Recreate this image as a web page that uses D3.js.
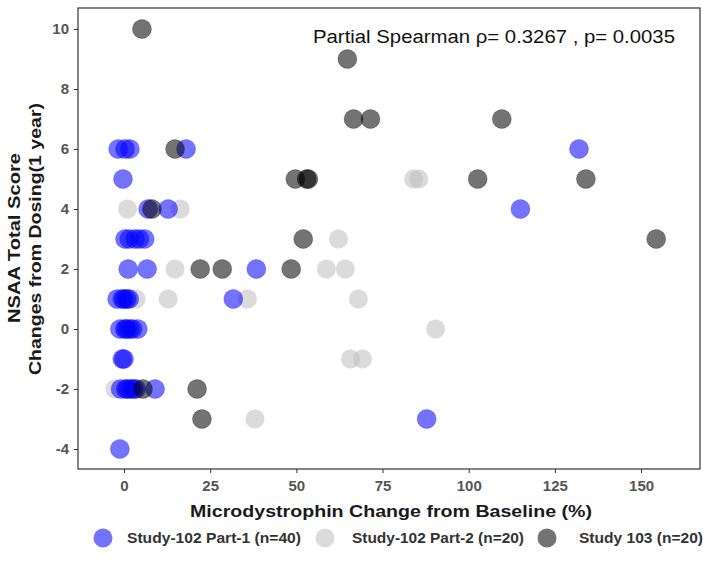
<!DOCTYPE html>
<html>
<head>
<meta charset="utf-8">
<script src="https://cdn.jsdelivr.net/npm/d3@7"></script>
<style>
body { margin: 0; background: white; }
#chart { width: 703px; height: 573px; }
text { font-family: "Liberation Sans", Arial, sans-serif; }
</style>
</head>
<body>
<div id="chart"></div>
<script>

// Study-102 Part-1 (n=40)
var p1_x = [-1.7, 0.3, 1.7, 18, 132, -0.3, 7, 12.8, 115, 0.3, 1.5, 3.2, 6, 4.5, 1.2, 6.7, 38.4,
	-2, -0.5, 0, 0.8, 31.7, 1.5, -1.2, 0.3, 1.7, 4, 0.8, 2.5, -0.5, 0, -1, 0.5, 2, 3.5, 9, 1, 2.8, 87.8, -1.2];
var p1_y = [6, 6, 6, 6, 6, 5, 4, 4, 4, 3, 3, 3, 3, 3, 2, 2, 2,
	1, 1, 1, 1, 1, 1, 0, 0, 0, 0, 0, 0, -1, -1, -2, -2, -2, -2, -2, -2, -2, -3, -4];

// Study-102 Part-2 (n=20)
var p2_x = [1, 16.3, 84, 85.5, 62.2, 14.8, 58.7, 64.2, 12.8, 35.8, 68, 3.5, 90.4, 0.8, 65.7, 69.2, -2.6, 1.5, 38, 0];
var p2_y = [4, 4, 5, 5, 3, 2, 2, 2, 1, 1, 1, 1, 0, 1, -1, -1, -2, -2, -3, 0];

// Study 103 (n=20)
var s3_x = [5.2, 64.8, 66.6, 71.5, 109.6, 14.8, 49.7, 53, 53.5, 102.6, 134, 8.1, 52, 154.4, 22.1, 28.5, 48.5, 5.5, 21.2, 22.6];
var s3_y = [10, 9, 7, 7, 7, 6, 5, 5, 5, 5, 5, 4, 3, 3, 2, 2, 2, -2, -2, -3];

var x_ticks = [0, 25, 50, 75, 100, 125, 150];
var y_ticks = [-4, -2, 0, 2, 4, 6, 8, 10];
var groups = ["Study-102 Part-1 (n=40)", "Study-102 Part-2 (n=20)", "Study 103 (n=20)"];
var colors = ["#0000ff", "#bebebe", "#000000"];

var width = 703, height = 573;
var svg = d3.select("#chart").append("svg")
	.attr("width", width)
	.attr("height", height);

var pLeft = 78, pRight = 700, pTop = 8, pBottom = 469;

var x = d3.scaleLinear().domain([-13.35, 167.1]).range([pLeft, pRight]);
var y = d3.scaleLinear().domain([-4.667, 10.7]).range([pBottom, pTop]);

// axes (plain hyphen for negatives, like the R output)
var fmt = function (d) { return String(d); };
svg.append("g").attr("transform", "translate(0," + pBottom + ")")
	.call(d3.axisBottom(x).tickValues(x_ticks).tickFormat(fmt).tickSize(4).tickPadding(7));
svg.append("g").attr("transform", "translate(" + pLeft + ",0)")
	.call(d3.axisLeft(y).tickValues(y_ticks).tickFormat(fmt).tickSize(4).tickPadding(5));

svg.selectAll(".domain").remove();
svg.selectAll(".tick line").attr("stroke", "#333").attr("stroke-width", 1);
svg.selectAll(".tick text").attr("fill", "#555").style("font-size", "15px")
	.style("font-weight", "bold").style("font-family", "'Liberation Sans', Arial, sans-serif");

svg.append("rect").attr("x", pLeft).attr("y", pTop).attr("width", pRight - pLeft).attr("height", pBottom - pTop)
	.attr("fill", "none").attr("stroke", "#333").attr("stroke-width", 1.2);

// points, drawn light grey first so the blue sits over it
var series = [[p2_x, p2_y, 1], [p1_x, p1_y, 0], [s3_x, s3_y, 2]];
series.forEach(function (s) {
	var i = s[2];
	var pts = s[0].map(function (v, j) { return [v, s[1][j]]; });
	svg.append("g").selectAll("circle").data(pts).enter().append("circle")
		.attr("cx", function (d) { return x(d[0]); })
		.attr("cy", function (d) { return y(d[1]); })
		.attr("r", 9.5)
		.attr("fill", colors[i]).attr("fill-opacity", 0.55)
		.attr("stroke", colors[i]).attr("stroke-opacity", i == 1 ? 0.05 : 0.25).attr("stroke-width", 1);
});

// annotation
svg.append("text").attr("x", 313).attr("y", 43)
	.attr("textLength", 362).attr("lengthAdjust", "spacingAndGlyphs")
	.style("font-size", "18px").attr("fill", "#111")
	.text("Partial Spearman \u03c1= 0.3267 , p= 0.0035");

// axis titles
svg.append("text").attr("x", 190).attr("y", 517)
	.attr("textLength", 402).attr("lengthAdjust", "spacingAndGlyphs")
	.style("font-size", "17px").style("font-weight", "bold").attr("fill", "#1a1a1a")
	.text("Microdystrophin Change from Baseline (%)");

var yt = svg.append("text").attr("transform", "translate(0,238) rotate(-90)")
	.style("font-size", "17px").style("font-weight", "bold").attr("fill", "#1a1a1a");
yt.append("tspan").attr("x", -85).attr("y", 20)
	.attr("textLength", 170).attr("lengthAdjust", "spacingAndGlyphs").text("NSAA Total Score");
var yt2 = svg.append("text").attr("transform", "translate(0,239) rotate(-90)")
	.style("font-size", "17px").style("font-weight", "bold").attr("fill", "#1a1a1a");
yt2.append("tspan").attr("x", -136).attr("y", 41)
	.attr("textLength", 272).attr("lengthAdjust", "spacingAndGlyphs").text("Changes from Dosing(1 year)");

// legend
var leg_x = [103, 325, 547];
var leg_tx = [127, 352, 579];
var leg_len = [174, 172, 124];
groups.forEach(function (g, i) {
	svg.append("circle").attr("cx", leg_x[i]).attr("cy", 538).attr("r", 9.5)
		.attr("fill", colors[i]).attr("fill-opacity", 0.55);
	svg.append("text").attr("x", leg_tx[i]).attr("y", 543)
		.attr("textLength", leg_len[i]).attr("lengthAdjust", "spacingAndGlyphs")
		.style("font-size", "14px").style("font-weight", "bold").attr("fill", "#333")
		.text(g);
});

</script>
</body>
</html>
